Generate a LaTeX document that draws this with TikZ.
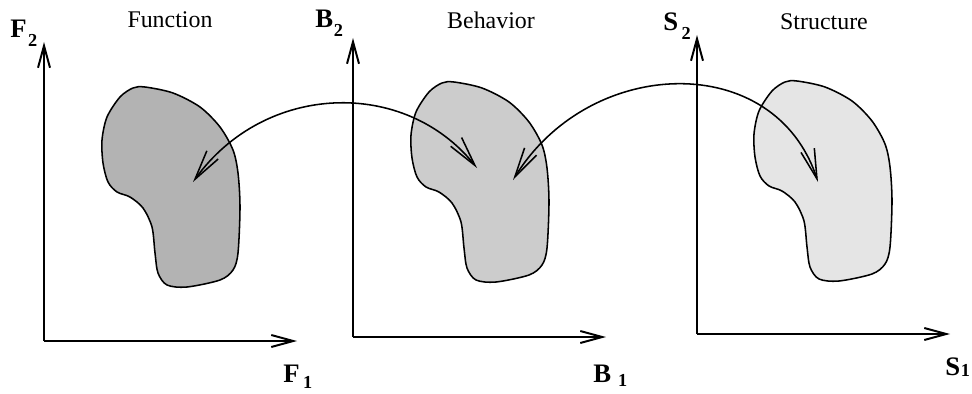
\documentclass[tikz,border=0pt]{standalone}
\usepackage{fontspec}
\setmainfont{Liberation Serif}
\usetikzlibrary{arrows.meta}
\definecolor{FunGray}{HTML}{B3B3B3}
\definecolor{BehGray}{HTML}{CCCCCC}
\definecolor{StrGray}{HTML}{E5E5E5}
% axis name: letter, index, gap, drop
\newcommand{\axlab}[4]{$\mathbf{#1}$\hspace{#3}\raisebox{-#4}{\fontsize{13}{15}\selectfont$\mathbf{#2}$}}
% outline of a design region (drawn for the first space)
\newcommand{\blobpath}{plot[smooth cycle,tension=0.5] coordinates {
  (145,87) (173,93) (200,107) (220,127) (233,150) (238,173) (240,207)
  (238,253) (233,270) (220,280) (187,287) (167,285) (158,273) (155,253)
  (152,227) (143,208) (130,197) (117,192) (108,182) (103,163) (102,140)
  (107,117) (120,97) (133,88)}}

\begin{document}
\begin{tikzpicture}[x=0.025cm,y=-0.025cm,
  axis/.style={line width=1.4pt,-{Straight Barb[length=5.5mm,width=3mm]}},
  region/.style={draw,line width=1.1pt},
  link/.style={line width=1.1pt,
    {Straight Barb[length=7.5mm,width=3.5mm]}-{Straight Barb[length=7.5mm,width=3.5mm]}},
  title/.style={font=\fontsize{17}{20}\selectfont},
  axname/.style={font=\fontsize{19}{22}\selectfont,anchor=base west,inner sep=0pt}
]
\useasboundingbox (0,0) rectangle (972,394);

% regions
\draw[region,fill=FunGray] \blobpath;
\draw[region,fill=BehGray,shift={(309,-5)}] \blobpath;
\draw[region,fill=StrGray,shift={(652,-6)}] \blobpath;

% axes
\coordinate (oF) at (44,341);
\coordinate (oB) at (353,337);
\coordinate (oS) at (697,334);
\foreach \o in {oF,oB,oS}{
  \draw[axis] (\o) -- ++(0,-299);
  \draw[axis] (\o) -- ++(253,0);
}

% titles
\node[title] (fn) at (170,20) {Function};
\node[title] (bh) at (491,20) {Behavior};
\node[title] (st) at (824,22) {Structure};

% axis names
\node[axname] (F2) at (10,38) {\axlab{F}{2}{1pt}{6.4pt}};
\node[axname] (F1) at (283,382) {\axlab{F}{1}{2.5pt}{4.3pt}};
\node[axname] (B2) at (315,28) {\axlab{B}{2}{0.5pt}{6.4pt}};
\node[axname] (B1) at (593,382) {\axlab{B}{1}{5pt}{3.5pt}};
\node[axname] (S2) at (663,31) {\axlab{S}{2}{2.5pt}{5.7pt}};
\node[axname] (S1) at (945,375) {\axlab{S}{1}{0.5pt}{1.4pt}};

% mappings between the spaces
\coordinate (fnIn) at (193,182);
\coordinate (bhInL) at (477,168);
\coordinate (bhInR) at (513,180);
\coordinate (stIn) at (818,182);
\draw[link] (fnIn) .. controls (265,82) and (405,78) .. (bhInL);
\draw[link] (bhInR) .. controls (590,55) and (775,50) .. (stIn);
\end{tikzpicture}
\end{document}
